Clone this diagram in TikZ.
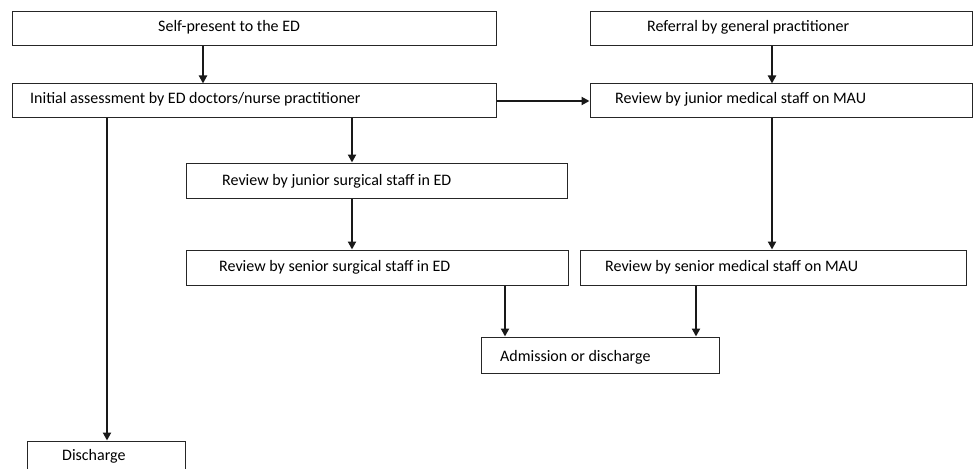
\documentclass[tikz,border=0pt]{standalone}
\usepackage{fontspec}
\setmainfont{Carlito}
\usetikzlibrary{arrows.meta}
\begin{document}
\begin{tikzpicture}[x=1pt,y=-1pt,
  box/.style={draw=black!85,line width=1pt,rectangle,inner sep=0pt},
  txt/.style={anchor=west,inner sep=0pt,font=\fontsize{16}{18}\selectfont},
  arr/.style={draw=black!90,line width=2pt,-{Triangle[length=8pt,width=8pt]}}]
\clip (0,0) rectangle (976,468);
\fill[white] (0,0) rectangle (976,468);
% boxes
\node[box,minimum width=484pt,minimum height=34pt] (self) at (254,29) {};
\node[box,minimum width=484pt,minimum height=34pt] (init) at (254,101) {};
\node[box,minimum width=382pt,minimum height=34pt] (ref) at (781,29) {};
\node[box,minimum width=382pt,minimum height=34pt] (jmed) at (781,101) {};
\node[box,minimum width=381pt,minimum height=35pt] (jsurg) at (376.5,180.5) {};
\node[box,minimum width=382pt,minimum height=35pt] (ssurg) at (377,267.5) {};
\node[box,minimum width=386pt,minimum height=35pt] (smed) at (773,267.5) {};
\node[box,minimum width=238pt,minimum height=36pt] (adm) at (600,355) {};
\node[box,minimum width=158pt,minimum height=40pt] (dis) at (106,461) {};
% texts
\node[txt] at (158,27) {Self-present to the ED};
\node[txt] at (30,99) {Initial assessment by ED doctors/nurse practitioner};
\node[txt] at (647,27) {Referral by general practitioner};
\node[txt] at (615,99) {Review by junior medical staff on MAU};
\node[txt] at (222,181) {Review by junior surgical staff in ED};
\node[txt] at (219,267) {Review by senior surgical staff in ED};
\node[txt] at (605,267) {Review by senior medical staff on MAU};
\node[txt] at (500,357) {Admission or discharge};
\node[txt] at (62,456) {Discharge};
% connectors
\draw[arr] ([xshift=-51pt]self.south) -- ([xshift=-51pt]init.north);
\draw[arr] ([xshift=-9pt]ref.south) -- ([xshift=-9pt]jmed.north);
\draw[arr] (init.east) -- (jmed.west);
\draw[arr] ([xshift=98pt]init.south) -- ([xshift=-24.5pt]jsurg.north);
\draw[arr] ([xshift=-147pt]init.south) -- ([xshift=1pt]dis.north);
\draw[arr] ([xshift=-24.5pt]jsurg.south) -- ([xshift=-25pt]ssurg.north);
\draw[arr] ([xshift=-9pt]jmed.south) -- ([xshift=-1pt]smed.north);
\draw[arr] ([xshift=128pt]ssurg.south) -- ([xshift=-95pt]adm.north);
\draw[arr] ([xshift=-77pt]smed.south) -- ([xshift=96pt]adm.north);
\end{tikzpicture}
\end{document}
